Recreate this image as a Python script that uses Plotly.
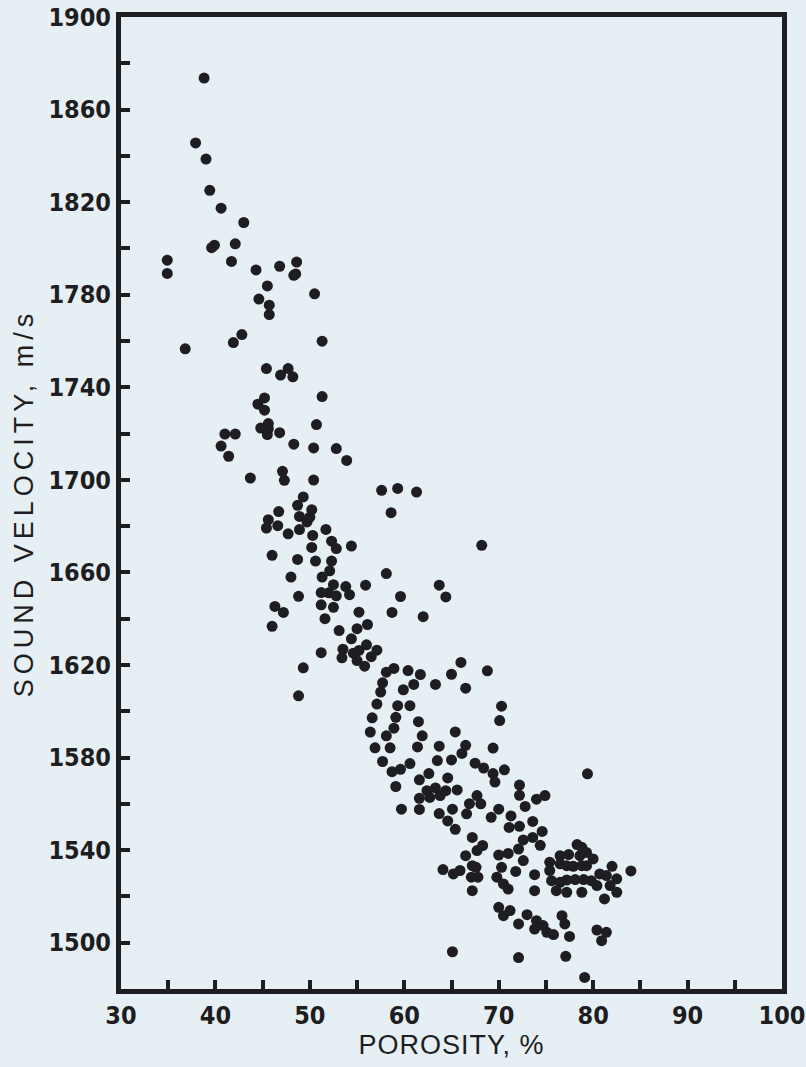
import plotly.graph_objects as go

porosity = [
    38.8, 37.9, 39.0, 39.4, 40.6, 43.0, 39.6, 39.9, 42.1, 41.7, 34.9, 34.9, 44.3, 46.8, 48.6, 48.3, 48.5,
    45.5, 44.6, 45.7, 45.7, 50.5, 42.8, 41.9, 51.3, 36.8, 45.4, 47.7, 46.9, 48.2, 51.3, 45.2, 44.5, 45.2,
    50.7, 45.6, 44.8, 45.6, 45.5, 46.8, 41.0, 42.1, 40.6, 41.4, 48.3, 50.4, 52.8, 53.9, 43.7, 47.1, 47.3,
    50.4, 57.6, 59.3, 61.3, 58.6, 49.3, 48.7, 50.2, 48.9, 49.7, 50.0, 46.7, 45.6, 45.4, 46.6, 47.7, 48.9,
    51.7, 50.3, 52.3, 52.8, 50.2, 54.4, 46.0, 48.7, 50.6, 52.3, 52.1, 51.3, 58.1, 48.0, 55.9, 52.5, 53.8,
    54.2, 52.8, 51.2, 52.0, 48.8, 59.6, 63.7, 64.4, 51.2, 52.5, 46.3, 47.2, 46.0, 55.2, 58.7, 62.0, 51.6,
    56.1, 55.0, 53.1, 54.4, 56.0, 57.1, 56.5, 55.2, 54.6, 53.5, 53.4, 55.8, 55.0, 51.2, 49.3, 48.8, 66.0,
    68.8, 65.0, 58.1, 58.9, 57.7, 57.5, 60.4, 61.7, 61.0, 59.9, 63.3, 66.5, 57.1, 59.3, 60.6, 70.3, 56.6,
    59.1, 58.9, 58.1, 61.5, 61.9, 70.1, 56.4, 65.4, 56.9, 58.5, 61.4, 63.7, 66.5, 66.1, 69.4, 57.7, 63.5,
    65.0, 60.6, 67.5, 68.4, 70.6, 58.7, 59.6, 62.6, 69.4, 69.6, 61.6, 64.6, 79.4, 72.2, 72.2, 59.1, 65.6,
    63.3, 62.4, 63.8, 61.6, 62.7, 64.4, 67.7, 68.1, 66.9, 66.6, 74.0, 74.9, 72.8, 59.7, 61.6, 65.1, 70.0,
    63.7, 64.6, 65.4, 69.2, 71.3, 71.1, 72.2, 73.6, 74.6, 73.6, 72.6, 74.4, 67.2, 68.3, 67.7, 66.5, 70.0,
    71.0, 72.1, 72.6, 71.8, 64.1, 65.2, 65.9, 67.2, 67.1, 67.2, 67.6, 67.8, 69.8, 70.3, 70.5, 71.0, 73.8,
    73.8, 78.3, 78.8, 79.3, 76.5, 77.4, 78.6, 80.0, 75.4, 76.5, 77.2, 77.9, 78.8, 79.3, 75.4, 82.0, 80.7,
    81.4, 82.5, 75.6, 76.5, 77.2, 78.1, 79.0, 79.8, 80.4, 81.8, 76.1, 77.2, 78.8, 81.2, 82.5, 84.0, 70.0,
    70.5, 71.2, 72.1, 73.0, 74.0, 73.8, 74.7, 75.1, 75.8, 76.7, 77.0, 77.5, 80.4, 81.4, 80.9, 65.1, 72.1,
    77.1, 79.1, 68.2,
]

velocity = [
    1873.6, 1845.6, 1838.6, 1825.1, 1817.4, 1811.2, 1800.3, 1801.4, 1802.0, 1794.4, 1794.9, 1789.2, 1790.7,
    1792.3, 1794.1, 1788.4, 1789.0, 1783.8, 1778.1, 1775.5, 1771.4, 1780.4, 1762.8, 1759.3, 1759.9, 1756.6,
    1748.1, 1748.1, 1745.3, 1744.5, 1736.0, 1735.4, 1732.7, 1730.1, 1723.9, 1724.3, 1722.4, 1722.1, 1719.6,
    1720.4, 1719.8, 1719.8, 1714.6, 1710.2, 1715.4, 1713.8, 1713.5, 1708.4, 1700.8, 1703.7, 1699.8, 1699.9,
    1695.5, 1696.3, 1694.7, 1685.8, 1692.6, 1689.0, 1687.1, 1684.2, 1681.8, 1683.9, 1686.3, 1682.8, 1679.2,
    1680.2, 1676.7, 1678.5, 1678.6, 1676.0, 1673.5, 1670.3, 1670.8, 1671.4, 1667.4, 1665.6, 1664.9, 1664.9,
    1660.7, 1658.0, 1659.5, 1658.0, 1654.5, 1654.7, 1653.9, 1650.4, 1649.9, 1651.3, 1651.2, 1649.7, 1649.6,
    1654.5, 1649.4, 1646.0, 1644.9, 1645.3, 1642.7, 1636.7, 1642.8, 1642.7, 1640.9, 1640.0, 1637.5, 1635.7,
    1634.9, 1631.3, 1628.7, 1626.4, 1623.6, 1626.3, 1625.1, 1626.8, 1623.1, 1619.5, 1621.9, 1625.3, 1618.8,
    1606.7, 1621.1, 1617.5, 1616.0, 1616.9, 1618.5, 1612.3, 1608.3, 1617.6, 1615.9, 1611.6, 1609.3, 1611.6,
    1610.0, 1603.1, 1602.4, 1602.4, 1602.2, 1597.2, 1597.4, 1592.7, 1589.4, 1595.5, 1589.4, 1596.0, 1591.0,
    1591.1, 1584.2, 1584.2, 1584.6, 1584.9, 1585.3, 1581.8, 1584.1, 1578.3, 1578.7, 1579.0, 1577.4, 1577.6,
    1575.5, 1574.7, 1573.9, 1574.9, 1573.1, 1573.1, 1569.4, 1570.4, 1571.2, 1573.0, 1568.1, 1563.7, 1567.5,
    1566.0, 1566.9, 1565.7, 1563.6, 1562.4, 1562.8, 1565.7, 1563.6, 1560.0, 1560.1, 1555.7, 1562.0, 1563.6,
    1558.9, 1557.7, 1557.6, 1557.7, 1557.7, 1555.8, 1552.6, 1549.0, 1554.2, 1554.8, 1549.8, 1550.3, 1552.4,
    1548.1, 1545.5, 1544.4, 1542.1, 1545.5, 1542.0, 1539.8, 1537.6, 1537.9, 1538.6, 1540.5, 1535.5, 1530.8,
    1531.6, 1529.7, 1531.2, 1533.3, 1528.3, 1522.5, 1532.6, 1528.3, 1528.3, 1532.6, 1525.4, 1523.2, 1529.4,
    1522.5, 1542.4, 1541.2, 1539.0, 1537.6, 1538.1, 1537.6, 1536.2, 1534.8, 1534.1, 1533.3, 1533.0, 1533.3,
    1533.3, 1531.2, 1533.0, 1529.7, 1529.0, 1527.6, 1526.8, 1526.1, 1527.1, 1527.3, 1527.3, 1526.8, 1524.7,
    1524.7, 1522.5, 1521.8, 1521.8, 1518.9, 1521.8, 1531.0, 1515.3, 1511.7, 1513.9, 1508.1, 1512.1, 1509.5,
    1505.9, 1507.4, 1504.5, 1503.5, 1511.7, 1508.1, 1502.7, 1505.5, 1504.5, 1500.9, 1496.1, 1493.6, 1494.1,
    1485.0, 1671.7,
]

x_ticks = [30, 40, 50, 60, 70, 80, 90, 100]
y_ticks = [1500, 1540, 1580, 1620, 1660, 1700, 1740, 1780, 1820, 1860, 1900]

x_title = "POROSITY, %"
y_title = "SOUND VELOCITY, m/s"

BG = "#e6eff3"
INK = "#1d1d22"
TICKFONT = dict(family="Liberation Sans Narrow, DejaVu Sans Condensed, Liberation Sans, Arial", size=25,
                color=INK, weight="bold")
TITLEFONT = dict(family="Liberation Sans, Arial", size=27, color=INK)

fig = go.Figure()
fig.add_trace(go.Scatter(
    x=porosity, y=velocity, mode="markers",
    marker=dict(size=11, color=INK, line=dict(width=0)),
    showlegend=False, hoverinfo="x+y",
))

fig.update_layout(
    width=806, height=1067,
    margin=dict(l=121, r=24, t=17, b=78, pad=0, autoexpand=False),
    paper_bgcolor=BG, plot_bgcolor=BG,
    xaxis=dict(
        range=[30, 100], tickvals=x_ticks, ticktext=[str(v) for v in x_ticks],
        automargin=False,
        showgrid=False, zeroline=False,
        showline=True, mirror=True, linewidth=5, linecolor=INK,
        ticks="inside", ticklen=9, tickwidth=4, tickcolor=INK,
        minor=dict(dtick=5, tick0=30, ticks="inside", ticklen=9, tickwidth=4, tickcolor=INK, showgrid=False),
        tickfont=TICKFONT,
        title=dict(text='<span style="letter-spacing:1px">' + x_title + '</span>', font=TITLEFONT, standoff=6),
    ),
    yaxis=dict(
        range=[1480, 1900], tickvals=y_ticks, ticktext=[str(v) for v in y_ticks],
        automargin=False,
        showgrid=False, zeroline=False,
        showline=True, mirror=True, linewidth=5, linecolor=INK,
        ticks="inside", ticklen=9, tickwidth=4, tickcolor=INK,
        minor=dict(dtick=20, tick0=1500, ticks="inside", ticklen=9, tickwidth=4, tickcolor=INK, showgrid=False),
        tickfont=TICKFONT,
        title=dict(text='<span style="letter-spacing:5px">' + y_title + '</span>', font=TITLEFONT, standoff=8),
    ),
)

fig.write_html("out.html")
